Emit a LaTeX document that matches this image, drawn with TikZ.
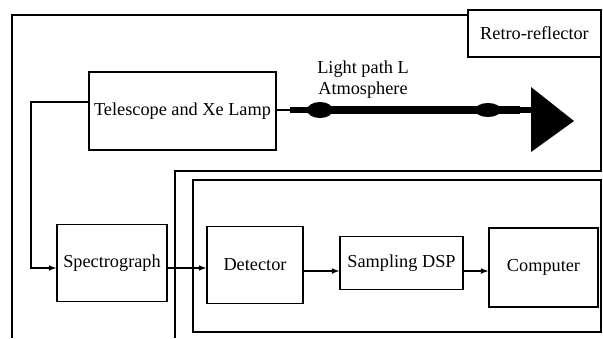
\documentclass[tikz,border=0pt]{standalone}
\usepackage{fontspec}
\setmainfont{Liberation Serif}
\usetikzlibrary{positioning}

\tikzset{
  blk/.style={draw, line width=1pt, inner sep=0pt, font=\fontsize{13}{15}\selectfont},
  frame/.style={line width=1.4pt},
  link/.style={->, >=latex, line width=0.8pt},
  beam/.style={line width=0.2cm}
}

\begin{document}
\begin{tikzpicture}[x=0.025cm,y=-0.025cm]
\useasboundingbox (0,0) rectangle (603,338);
% frames
\draw[frame] (12,338) -- (12,15) -- (468,15);
\draw[frame] (601,57) -- (601,171) -- (175,171) -- (175,338);
\draw[frame] (193,180) rectangle (601,332);
% boxes
\node[blk, minimum width=133*0.025cm, minimum height=47*0.025cm] (retro) at (534.5,33.5) {Retro-reflector};
\node[blk, minimum width=187*0.025cm, minimum height=78*0.025cm] (tel) at (182.5,111) {Telescope and Xe Lamp};
\node[blk, minimum width=110*0.025cm, minimum height=77*0.025cm] (spec) at (112,263) {Spectrograph};
\node[blk, minimum width=96*0.025cm, minimum height=77*0.025cm] (det) at (255,265) {Detector};
\node[blk, minimum width=123*0.025cm, minimum height=53*0.025cm] (dsp) at (401.5,263) {Sampling DSP};
\node[blk, minimum width=109*0.025cm, minimum height=79*0.025cm] (comp) at (543.5,267.5) {Computer};
% light path
\node[font=\fontsize{13}{15}\selectfont, align=center, inner sep=0pt] (lp) at (363,80) {Light path L\\Atmosphere};
\coordinate (b1) at (290,110);
\coordinate (b2) at (520,110);
\coordinate (tip) at (574,121);
\draw[line width=1.6pt] (tel.east |- b1) -- (b1);
\draw[line width=0.17cm] (b1) -- (310,110);
\draw[beam] (310,110) -- (b2);
\fill (320,110) ellipse (13 and 8);
\fill (488,110) ellipse (13 and 7);
\draw[line width=0.13cm] (b2) -- (532,110);
\fill (531,87) -- (tip) -- (531,152) -- cycle;
% connectors
\coordinate (bend) at (31,102);
\draw[link] (tel.west |- bend) -- (bend) |- ([yshift=-0.125cm]spec.west);
\draw[link] ([yshift=-0.125cm]spec.east) -- ([yshift=-0.125cm]spec.east -| det.west);
\draw[link] ([yshift=-0.15cm]det.east) -- ([yshift=-0.15cm]det.east -| dsp.west);
\draw[link] ([yshift=-0.2cm]dsp.east) -- ([yshift=-0.2cm]dsp.east -| comp.west);
\end{tikzpicture}
\end{document}
